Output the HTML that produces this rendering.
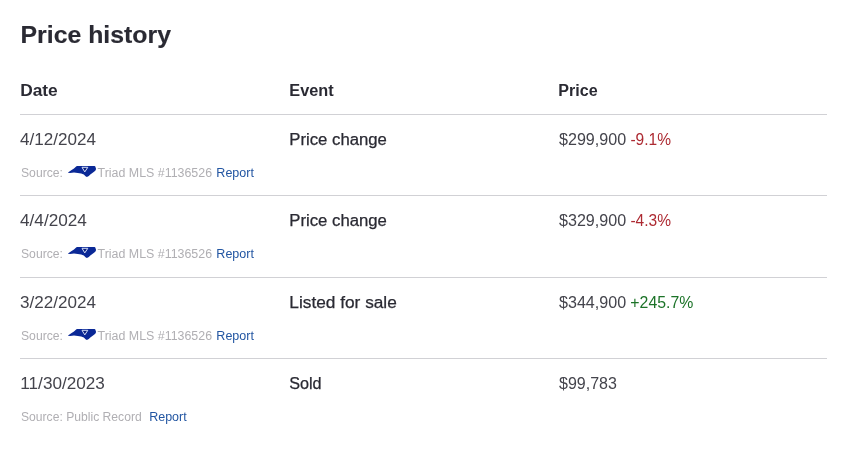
<!DOCTYPE html>
<html lang="en"><head><meta charset="utf-8"><title>Price history</title>
<style>
html,body{margin:0;padding:0;background:#fff;}
body{position:relative;width:849px;height:459px;overflow:hidden;font-family:"Liberation Sans",sans-serif;color:#2a2a33;}
.run{position:absolute;white-space:nowrap;transform-origin:0 0;display:block;}
h2{margin:0;height:65px;font-size:24px;line-height:32px;font-weight:700;}
h2 .run{font-size:24px;line-height:32px;-webkit-text-stroke:0.15px #2a2a33;}
table{margin:0 0 0 20px;width:807px;border-collapse:collapse;table-layout:fixed;}
th,td{padding:0;text-align:left;font-size:16px;line-height:24px;}
th{font-weight:700;height:49px;}
tr.r td{border-top:1px solid #d1d1d5;height:36px;color:#44444c;}
tr.s td{font-size:12px;line-height:16px;color:#b0afb3;}
tr.r td.e{font-weight:400;color:#2a2a33;-webkit-text-stroke:0.25px #2a2a33;}
a{color:#2356a2;text-decoration:none;}
.red{color:#ad2a32}.green{color:#1c7328}
svg.logo{position:absolute;display:block;}
</style></head><body>
<h2><span class="run " id="r1" style="left:20px;top:19px;transform:translateX(0.50px) scaleX(1.0353)">Price history</span></h2>
<table>
<colgroup><col style="width:269px"><col style="width:269px"><col></colgroup>
<thead><tr><th><span class="run " id="r2" style="left:20px;top:79px;transform:translateX(0.15px) scaleX(1.0836)">Date</span></th><th><span class="run " id="r3" style="left:289px;top:79px;transform:translateX(0.35px) scaleX(1.0171)">Event</span></th><th><span class="run " id="r4" style="left:558px;top:79px;transform:translateX(0.35px) scaleX(1.0053)">Price</span></th></tr></thead>
<tbody>
<tr class="r"><td><span class="run " id="r5" style="left:20px;top:128px;transform:translateX(0.00px) scaleX(1.0665)">4/12/2024</span></td><td class="e"><span class="run " id="r6" style="left:289px;top:128px;transform:translateX(0.30px) scaleX(1.0453)">Price change</span></td><td><span class="run " id="r7" style="left:559px;top:128px;transform:translateX(0.00px) scaleX(1.0057)">$299,900</span><span class="run red" id="r8" style="left:630px;top:128px;transform:translateX(0.45px) scaleX(0.9704)">-9.1%</span></td></tr>
<tr class="s"><td colspan="3" style="height:44px"><span class="run " id="r9" style="left:21px;top:165px;transform:translateX(0.00px) scaleX(1.0137)">Source:</span><svg class="logo" style="left:66px;top:165px" width="32" height="13" viewBox="66 165 32 13"><path d="M68 172.4L71.6 170.1L74 168.5L76.4 166.2L77.3 166L94.6 166L95.3 166.5L96.1 169.1L95.3 170.8L92.7 172.8L90.3 174.4L88.8 176L86.9 176.9L85.5 176.3L83.8 174.4L81.2 173.6L77.8 173L74 172.6L70.1 172.9L68 172.8Z" fill="#0a2896"/><path d="M82 167.3L87.8 167.3L84.8 171.9Z" fill="#0a1f7d" stroke="#d6e0f8" stroke-width="1" stroke-linejoin="miter"/></svg><span class="run " id="r10" style="left:97px;top:165px;transform:translateX(0.55px) scaleX(1.0338)">Triad MLS #1136526</span><a><span class="run " id="r11" style="left:216px;top:165px;transform:translateX(0.35px) scaleX(1.0429)">Report</span></a></td></tr>
<tr class="r"><td><span class="run " id="r12" style="left:20px;top:209px;transform:translateX(0.00px) scaleX(1.0741)">4/4/2024</span></td><td class="e"><span class="run " id="r13" style="left:289px;top:209px;transform:translateX(0.30px) scaleX(1.0453)">Price change</span></td><td><span class="run " id="r14" style="left:559px;top:209px;transform:translateX(0.00px) scaleX(1.0057)">$329,900</span><span class="run red" id="r15" style="left:630px;top:209px;transform:translateX(0.45px) scaleX(0.9704)">-4.3%</span></td></tr>
<tr class="s"><td colspan="3" style="height:45px"><span class="run " id="r16" style="left:21px;top:246px;transform:translateX(0.00px) scaleX(1.0137)">Source:</span><svg class="logo" style="left:66px;top:246px" width="32" height="13" viewBox="66 165 32 13"><path d="M68 172.4L71.6 170.1L74 168.5L76.4 166.2L77.3 166L94.6 166L95.3 166.5L96.1 169.1L95.3 170.8L92.7 172.8L90.3 174.4L88.8 176L86.9 176.9L85.5 176.3L83.8 174.4L81.2 173.6L77.8 173L74 172.6L70.1 172.9L68 172.8Z" fill="#0a2896"/><path d="M82 167.3L87.8 167.3L84.8 171.9Z" fill="#0a1f7d" stroke="#d6e0f8" stroke-width="1" stroke-linejoin="miter"/></svg><span class="run " id="r17" style="left:97px;top:246px;transform:translateX(0.55px) scaleX(1.0338)">Triad MLS #1136526</span><a><span class="run " id="r18" style="left:216px;top:246px;transform:translateX(0.35px) scaleX(1.0429)">Report</span></a></td></tr>
<tr class="r"><td><span class="run " id="r19" style="left:20px;top:291px;transform:translateX(0.00px) scaleX(1.0664)">3/22/2024</span></td><td class="e"><span class="run " id="r20" style="left:289px;top:291px;transform:translateX(0.30px) scaleX(1.0793)">Listed for sale</span></td><td><span class="run " id="r21" style="left:559px;top:291px;transform:translateX(0.00px) scaleX(1.0057)">$344,900</span><span class="run green" id="r22" style="left:630px;top:291px;transform:translateX(0.35px) scaleX(0.9899)">+245.7%</span></td></tr>
<tr class="s"><td colspan="3" style="height:44px"><span class="run " id="r23" style="left:21px;top:328px;transform:translateX(0.00px) scaleX(1.0137)">Source:</span><svg class="logo" style="left:66px;top:328px" width="32" height="13" viewBox="66 165 32 13"><path d="M68 172.4L71.6 170.1L74 168.5L76.4 166.2L77.3 166L94.6 166L95.3 166.5L96.1 169.1L95.3 170.8L92.7 172.8L90.3 174.4L88.8 176L86.9 176.9L85.5 176.3L83.8 174.4L81.2 173.6L77.8 173L74 172.6L70.1 172.9L68 172.8Z" fill="#0a2896"/><path d="M82 167.3L87.8 167.3L84.8 171.9Z" fill="#0a1f7d" stroke="#d6e0f8" stroke-width="1" stroke-linejoin="miter"/></svg><span class="run " id="r24" style="left:97px;top:328px;transform:translateX(0.55px) scaleX(1.0338)">Triad MLS #1136526</span><a><span class="run " id="r25" style="left:216px;top:328px;transform:translateX(0.35px) scaleX(1.0429)">Report</span></a></td></tr>
<tr class="r"><td><span class="run " id="r26" style="left:20px;top:372px;transform:translateX(0.35px) scaleX(1.0700)">11/30/2023</span></td><td class="e"><span class="run " id="r27" style="left:289px;top:372px;transform:translateX(0.25px) scaleX(1.0104)">Sold</span></td><td><span class="run " id="r28" style="left:559px;top:372px;transform:translateX(0.00px) scaleX(1.0001)">$99,783</span></td></tr>
<tr class="s"><td colspan="3" style="height:45px"><span class="run " id="r29" style="left:21px;top:409px;transform:translateX(0.00px) scaleX(1.0108)">Source: Public Record</span><a><span class="run " id="r30" style="left:149px;top:409px;transform:translateX(0.15px) scaleX(1.0415)">Report</span></a></td></tr>
</tbody></table>
</body></html>
